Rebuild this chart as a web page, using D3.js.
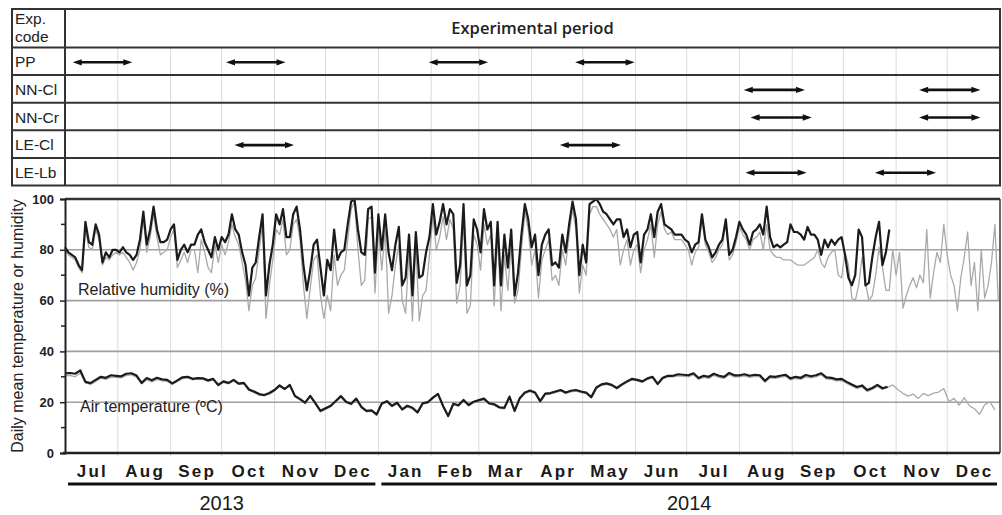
<!DOCTYPE html>
<html>
<head>
<meta charset="utf-8">
<script src="https://cdn.jsdelivr.net/npm/d3@7"></script>
<style>
  body { margin: 0; background: #fff; }
  svg { display: block; font-family: "Liberation Sans", Arial, sans-serif; }
</style>
</head>
<body>
<svg id="chart" width="1002" height="515"></svg>
<script>
// experiment codes and their periods
const expCodes = ["PP", "NN-Cl", "NN-Cr", "LE-Cl", "LE-Lb"];
const periodCode  = ["PP", "PP", "PP", "PP", "NN-Cl", "NN-Cl", "NN-Cr", "NN-Cr", "LE-Cl", "LE-Cl", "LE-Lb", "LE-Lb"];
const periodStart = ["2013-07-05", "2013-10-03", "2014-01-30", "2014-04-26", "2014-08-03", "2014-11-14",
                     "2014-08-07", "2014-11-14", "2013-10-08", "2014-04-17", "2014-08-04", "2014-10-19"];
const periodEnd   = ["2013-08-10", "2013-11-08", "2014-03-07", "2014-06-01", "2014-09-09", "2014-12-21",
                     "2014-09-13", "2014-12-21", "2013-11-13", "2014-05-24", "2014-09-10", "2014-11-25"];

// daily mean relative humidity (%), one value every 2 days from 1 Jul 2013
const rhInside = [
  81,79,78,77,74,72,91,83,82,90, 86,75,79,77,80,80,79,81,79,78,
  76,78,84,95,82,88,97,88,83,83, 84,88,90,76,80,82,79,82,82,86,
  88,83,80,77,85,80,85,83,86,94, 88,86,79,74,62,73,75,85,94,62,
  74,82,94,90,96,85,85,94,97,88, 74,64,72,82,84,73,62,76,72,88,
  76,79,80,90,99,100,88,79,78,96, 97,71,94,80,94,79,72,82,89,66,
  69,86,62,87,69,70,79,85,98,86, 91,98,90,96,94,67,74,98,66,70,
  92,88,79,96,88,91,66,91,66,86, 73,88,62,71,86,98,92,81,86,70,
  82,86,88,74,75,73,86,79,90,99, 92,70,82,75,98,99,100,98,95,94,
  92,90,92,92,85,88,81,86,87,75, 86,88,94,85,95,98,90,89,88,86,
  86,86,84,83,79,82,83,94,84,81, 77,79,82,84,92,78,80,85,91,88,
  86,82,87,88,90,86,97,85,81,82, 81,82,83,90,87,87,86,84,89,86,
  86,84,78,84,81,84,82,84,85,78, 69,66,70,88,85,66,67,77,85,91,
  74,79,88
];
const rhOutside = [
  80,78,77,76,73,71,88,81,80,88, 84,74,77,76,78,79,78,79,77,75,
  72,75,80,92,79,85,94,85,78,79, 80,85,88,73,76,79,75,80,80,71,
  84,79,73,71,82,75,82,78,83,90, 85,82,75,68,56,66,69,80,90,53,
  66,76,88,86,92,78,80,90,92,84, 66,53,65,76,78,62,53,62,56,78,
  66,70,72,84,96,99,80,66,68,92, 93,63,88,72,88,55,62,74,82,60,
  55,80,52,82,52,62,64,78,93,80, 85,93,84,92,88,59,66,92,55,58,
  86,82,72,90,82,86,58,86,56,78, 64,82,59,64,80,95,88,74,80,61,
  76,80,84,68,70,66,80,74,86,96, 88,63,74,70,94,97,97,94,92,90,
  88,85,88,74,80,84,74,80,82,71, 80,84,90,77,90,95,88,86,87,84,
  84,84,82,80,74,79,81,92,82,79, 75,77,80,82,90,76,78,83,89,86,
  84,80,84,85,87,80,90,80,78,77, 77,76,76,76,75,74,74,74,75,76,
  77,80,75,73,77,79,80,70,69,79, 74,61,60,66,77,67,60,62,70,81,
  73,64,64,80,70,79,57,62,66,69, 65,70,67,88,61,71,79,75,90,78,
  70,66,56,69,77,87,66,75,56,80, 61,66,75,90,60
];

// daily mean air temperature (ºC), one value every 3 days from 1 Jul 2013
const tInside = [
  31.4,31.5,31.2,32.5,28,27.5,28.8,30,29.6,30.6, 30.4,30.2,31.2,31.4,30.5,27.6,29.5,28.6,29.6,29,
  28.8,27.4,28.6,29.8,30,29.2,29.5,29.4,28.6,29.2, 26.8,28.2,27.6,28.8,27.3,27.6,25,24.2,23.2,22.8,
  23.6,24.8,26.6,25.2,26.8,22.5,21.2,19.8,22.5,19.6, 16.6,17.6,18.6,20.5,22.4,20.2,19.4,21.4,18.2,16.6,
  16.8,15.2,19.5,20.4,18.6,19.8,17.2,18.6,17.8,16, 19.6,20,21.8,23.3,18.5,14.6,19.4,18.8,20.9,18.9,
  20.2,20.8,21.4,19.6,19.2,18,17.8,22.2,16.6,21.6, 23.8,24.6,23.8,20.4,23.4,23.6,24.2,24.8,23.8,24.5,
  24.8,24.2,23.8,22,25.8,27,27.4,26.8,25.6,27, 28.2,29.2,28.8,28.2,29.4,30,27.2,29.6,30.4,30.4,
  31,30.8,30.6,31.4,29.5,30.4,30,31.2,30.4,30, 31.5,30.6,30.6,31,30.4,30.8,30.6,28.4,30.2,30,
  30.4,30.8,29.4,30,29.6,30.7,30.2,30.6,31.4,29.8, 29.6,29,29.2,28,27,26,26.6,24.8,25.6,26.8,
  25.5,26.1
];
const tOutside = [
  30.4,30.6,30,31.5,27.6,27,28.2,29.4,29,29.8, 29.8,29.6,30.5,30.8,29.8,27.2,28.8,28,29,28.4,
  28.2,27,28.2,29.4,29.6,28.8,29.2,29,28.2,28.8, 26.4,27.8,27.2,28.4,27,27.2,24.6,23.8,22.8,22.6,
  23.2,24.4,26.2,25,26.4,22.2,21,19.4,22.2,19.2, 16.2,17.2,18.2,20.2,22,19.8,19,21,17.8,16.2,
  16.4,14.8,19.2,20,18.2,19.4,16.8,18.2,17.4,15.6, 19.2,19.6,21.4,23,18.2,14.2,19,18.4,20.6,18.6,
  19.8,20.4,21,19.2,18.8,17.6,17.4,21.8,16.2,21.2, 23.4,24.2,23.4,20,23,23.2,23.8,24.4,23.4,24.1,
  24.4,23.8,23.4,21.6,25.4,26.6,27,26.4,25.2,26.6, 27.8,28.8,28.4,27.8,29,29.6,26.8,29.2,30,30,
  30.4,30.2,30,30.8,29,29.8,29.4,30.6,29.8,29.4, 30.8,30,30,30.4,29.8,30.2,30,27.8,29.6,29.4,
  29.8,30.2,28.8,29.4,29,30,29.6,30,30.8,29.2, 29,28.4,28.6,27.4,26.4,25.4,26,24.2,25,26.2,
  25,25.8,26.8,25,23.5,22.4,23.2,21.5,23.4,22.6, 23.6,24,25.4,20.2,21.5,18.8,21.8,18.6,17.4,15.2,
  19,20.2,17
];

const yTicks = [0, 20, 40, 60, 80, 100];
const yMinor = [10, 30, 50, 70, 90];
const years = ["2013", "2014"];

const svg = d3.select("#chart");
const dayMs = 864e5;
const start = Date.UTC(2013, 6, 1), end = Date.UTC(2015, 0, 1);

const x = d3.scaleUtc().domain([start, end]).range([65, 1000]);
const y = d3.scaleLinear().domain([0, 100]).range([453, 199]);
const months = d3.utcMonth.range(new Date(start), new Date(end));

function series(vals, step) {
  return vals.map((v, i) => ({ date: new Date(start + i * step * dayMs), v: v }));
}

// ---------- table ----------
const tTop = 9, tHead = 47.5, tBottom = 185.5, tLeft = 12, tRight = 1000, codeRight = 65;
const row = d3.scaleBand().domain(expCodes).range([tHead, tBottom]);

svg.append("g").selectAll("line").data(months.slice(1)).join("line")
  .attr("x1", d => x(d)).attr("x2", d => x(d))
  .attr("y1", tHead).attr("y2", tBottom)
  .attr("stroke", "#dadada").attr("stroke-width", 1);

svg.append("g").selectAll("line").data(expCodes.slice(1)).join("line")
  .attr("x1", tLeft).attr("x2", tRight)
  .attr("y1", d => row(d)).attr("y2", d => row(d))
  .attr("stroke", "#333").attr("stroke-width", 2);
svg.append("line").attr("x1", tLeft).attr("x2", tRight).attr("y1", tHead).attr("y2", tHead)
  .attr("stroke", "#333").attr("stroke-width", 2.2);
svg.append("line").attr("x1", codeRight).attr("x2", codeRight).attr("y1", tTop).attr("y2", tBottom)
  .attr("stroke", "#333").attr("stroke-width", 2);
svg.append("rect").attr("x", tLeft).attr("y", tTop).attr("width", tRight - tLeft).attr("height", tBottom - tTop)
  .attr("fill", "none").attr("stroke", "#333").attr("stroke-width", 2);

svg.append("text").attr("x", 15).attr("y", 24).attr("font-size", 15.5).attr("fill", "#222").text("Exp.");
svg.append("text").attr("x", 15).attr("y", 42).attr("font-size", 15.5).attr("fill", "#222").text("code");
svg.append("text").attr("x", (codeRight + tRight) / 2).attr("y", 34)
  .attr("text-anchor", "middle").attr("font-family", "'Open Sans', sans-serif")
  .attr("font-size", 16.5).attr("font-weight", 600).attr("fill", "#222").text("Experimental period");

svg.append("g").selectAll("text").data(expCodes).join("text")
  .attr("x", 15).attr("y", d => row(d) + row.bandwidth() / 2 + 6)
  .attr("font-size", 15.5).attr("fill", "#222").text(d => d);

// double-headed arrows
const defs = svg.append("defs");
defs.append("marker").attr("id", "head")
  .attr("viewBox", "0 0 10 10").attr("refX", 1).attr("refY", 5)
  .attr("markerWidth", 10).attr("markerHeight", 9).attr("markerUnits", "userSpaceOnUse")
  .attr("orient", "auto-start-reverse")
  .append("path").attr("d", "M0,1.5 L10,5 L0,8.5 Z").attr("fill", "#111");

const parse = d3.utcParse("%Y-%m-%d");
svg.append("g").selectAll("line").data(periodCode.map((c, i) => i)).join("line")
  .attr("x1", i => x(parse(periodStart[i])) + 9)
  .attr("x2", i => x(parse(periodEnd[i])) - 9)
  .attr("y1", i => row(periodCode[i]) + row.bandwidth() / 2 + 1)
  .attr("y2", i => row(periodCode[i]) + row.bandwidth() / 2 + 1)
  .attr("stroke", "#111").attr("stroke-width", 2.6)
  .attr("marker-start", "url(#head)").attr("marker-end", "url(#head)");

// ---------- plot ----------
svg.append("g").selectAll("line").data(months.slice(1)).join("line")
  .attr("x1", d => x(d)).attr("x2", d => x(d))
  .attr("y1", y(100)).attr("y2", y(0) + 3)
  .attr("stroke", "#dcdcdc").attr("stroke-width", 1);

svg.append("g").selectAll("line").data([20, 40, 60, 80]).join("line")
  .attr("x1", x(start)).attr("x2", x(end))
  .attr("y1", d => y(d)).attr("y2", d => y(d))
  .attr("stroke", "#a0a0a0").attr("stroke-width", 1.6);

const line = d3.line().x(d => x(d.date)).y(d => y(d.v));
const drawLine = (vals, step, color, width) =>
  svg.append("path").datum(series(vals, step)).attr("d", line)
    .attr("fill", "none").attr("stroke", color).attr("stroke-width", width)
    .attr("stroke-linejoin", "round");

drawLine(rhOutside, 2, "#a9a9a9", 1.3);
drawLine(tOutside, 3, "#a9a9a9", 1.3);
drawLine(rhInside, 2, "#1b1b1b", 2.2);
drawLine(tInside, 3, "#1b1b1b", 2.2);

// frame
svg.append("line").attr("x1", x(start)).attr("x2", x(end)).attr("y1", y(100)).attr("y2", y(100))
  .attr("stroke", "#333").attr("stroke-width", 2.4);
svg.append("line").attr("x1", x(end)).attr("x2", x(end)).attr("y1", y(100)).attr("y2", y(0))
  .attr("stroke", "#444").attr("stroke-width", 1.6);
svg.append("line").attr("x1", x(start) - 2).attr("x2", x(end)).attr("y1", y(0)).attr("y2", y(0))
  .attr("stroke", "#222").attr("stroke-width", 2.4);

const yAxis = svg.append("g").attr("transform", `translate(${x(start)},0)`)
  .call(d3.axisLeft(y).tickValues(yTicks).tickSize(5).tickPadding(6));
yAxis.select(".domain").attr("stroke", "#222").attr("stroke-width", 2);
yAxis.selectAll(".tick line").attr("stroke", "#222").attr("stroke-width", 1.5);
yAxis.selectAll("text").attr("font-size", 13).attr("font-weight", "bold")
  .attr("font-family", "'Liberation Sans', Arial, sans-serif").attr("fill", "#222");
svg.append("g").selectAll("line").data(yMinor).join("line")
  .attr("x1", x(start) - 4).attr("x2", x(start))
  .attr("y1", d => y(d)).attr("y2", d => y(d))
  .attr("stroke", "#222").attr("stroke-width", 1.5);

svg.append("text")
  .attr("transform", `translate(23,${(y(0) + y(100)) / 2}) rotate(-90)`)
  .attr("text-anchor", "middle").attr("font-size", 16).attr("fill", "#222")
  .text("Daily mean temperature or humidity");

svg.append("text").attr("x", 78).attr("y", 295).attr("font-size", 16).attr("fill", "#222")
  .text("Relative humidity (%)");
svg.append("text").attr("x", 80).attr("y", 412).attr("font-size", 16).attr("fill", "#222")
  .text("Air temperature (ºC)");

// month labels
svg.append("g").selectAll("text").data(months).join("text")
  .attr("x", d => (x(d) + x(d3.utcMonth.offset(d, 1))) / 2 + 1)
  .attr("y", 477).attr("text-anchor", "middle")
  .attr("font-size", 17).attr("font-weight", "bold").attr("letter-spacing", 2.2)
  .attr("fill", "#1a1a1a").text(d3.utcFormat("%b"));

// year underlines and labels
const yearStart = years.map(yr => Math.max(start, Date.UTC(+yr, 0, 1)));
const yearEnd = years.map(yr => Math.min(end, Date.UTC(+yr + 1, 0, 1)));
svg.append("g").selectAll("line").data(years.map((d, i) => i)).join("line")
  .attr("x1", i => x(yearStart[i]) + 3).attr("x2", i => x(yearEnd[i]) - 3)
  .attr("y1", 484).attr("y2", 484)
  .attr("stroke", "#111").attr("stroke-width", 3);
svg.append("g").selectAll("text").data(years.map((d, i) => i)).join("text")
  .attr("x", i => (x(yearStart[i]) + x(yearEnd[i])) / 2)
  .attr("y", 510).attr("text-anchor", "middle")
  .attr("font-size", 20).attr("fill", "#1a1a1a").text(i => years[i]);
</script>
</body>
</html>
